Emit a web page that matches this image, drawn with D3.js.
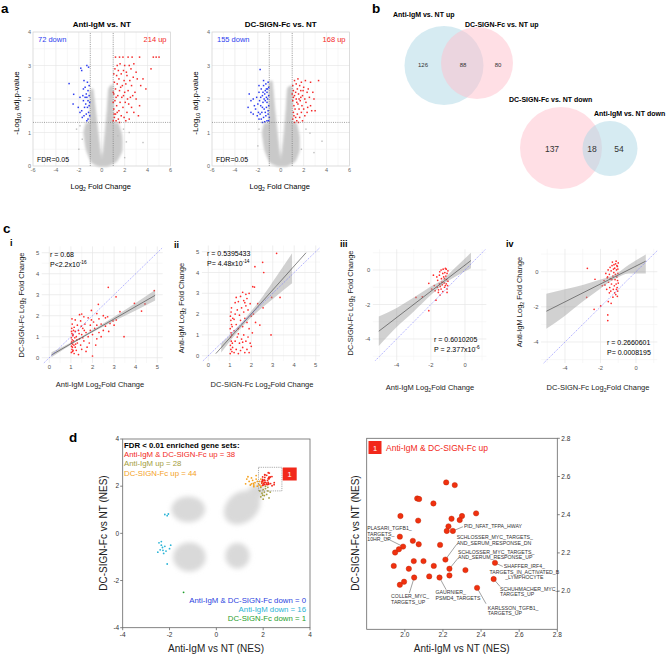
<!DOCTYPE html>
<html><head><meta charset="utf-8">
<script src="https://cdn.jsdelivr.net/npm/d3@7"></script>
<style>body{margin:0;background:#fff}svg{display:block}text{font-family:"Liberation Sans",Arial,sans-serif}</style>
</head><body><svg id="c" width="670" height="656"></svg>
<script>
// ---------------- DATA ----------------
// Panel a: volcano plots
const volcTitles = ["Anti-IgM vs. NT", "DC-SIGN-Fc  vs. NT"];
const volcCounts = [[72, 214], [155, 168]];
const volcXTicks = [-6, -4, -2, 0, 2, 4, 6];
const volcYTicks = [0, 1, 2, 3, 4];
const fdrLine = 1.301;
const fcCut = [-1, 1];
const vShape1 = [[-0.3,0],[-0.9,0.12],[-1.35,0.5],[-1.55,1.0],[-1.35,1.28],[-1.02,1.32],[-1.0,2.2],[-0.78,2.28],[-0.55,1.65],[-0.35,1.05],[-0.15,0.5],[0,0.22],[0.15,0.5],[0.32,1.05],[0.48,1.65],[0.62,2.3],[0.98,2.38],[1.0,1.32],[1.4,1.28],[1.75,0.9],[1.75,0.45],[1.3,0.15],[0.5,0]];
const vShape2 = [[-0.3,0],[-0.95,0.12],[-1.4,0.5],[-1.6,1.0],[-1.4,1.28],[-1.02,1.32],[-1.0,2.45],[-0.75,2.5],[-0.55,1.75],[-0.35,1.1],[-0.15,0.5],[0,0.2],[0.15,0.5],[0.32,1.05],[0.48,1.7],[0.6,2.3],[0.97,2.35],[1.0,1.32],[1.35,1.28],[1.6,0.9],[1.6,0.45],[1.25,0.15],[0.5,0]];
const volc1Gray = [[-2.2,1.1],[1.4,0.9],[3.6,0.7],[-2.0,0.5],[2.15,0.72],[1.9,1.1],[-1.7,0.8],[2.0,0.25],[2.4,1.0],[-1.9,1.2]];
const volc2Gray = [[2.55,0.98],[2.2,1.1],[3.6,0.74],[-2.0,0.6],[1.8,0.5],[-1.9,1.1],[2.9,0.4]];
const volc1Blue = [[-2.85,2.46],[-1.83,2.92],[-1.75,2.85],[-1.3,3.0],[-1.15,2.95],[-1.55,2.55],[-1.25,2.5],[-1.45,2.35],[-1.2,2.25],[-1.6,2.3],[-2.45,2.14],[-1.9,2.05],[-1.6,1.95],[-1.4,1.85],[-1.25,1.75],[-2.5,1.85],[-2.05,1.75],[-1.75,1.65],[-1.35,1.55],[-1.2,1.4],[-1.55,1.5],[-1.1,2.1],[-1.15,1.6],[-1.05,1.9],[-1.3,2.05],[-1.7,1.45],[-1.9,1.6],[-1.1,2.4],[-1.35,2.15],[-1.05,1.5],[-1.5,1.75],[-1.2,1.95],[-1.1,1.8],[-1.45,2.05],[-1.65,2.1],[-1.3,1.35]];
const volc1Red = [[1.2,3.25],[1.55,3.25],[1.85,3.25],[2.3,3.25],[2.65,3.25],[3.3,3.25],[4.5,3.25],[4.75,3.25],[5.0,3.25],[1.35,3.0],[1.6,3.05],[2.0,3.0],[2.4,3.0],[2.8,3.05],[4.3,2.9],[1.15,2.9],[1.9,2.85],[2.55,2.9],[3.0,2.8],[1.05,2.75],[1.3,2.7],[1.7,2.75],[2.2,2.7],[2.75,2.65],[1.5,2.6],[1.95,2.55],[2.45,2.55],[3.1,2.6],[3.6,2.6],[3.85,2.3],[1.1,2.5],[1.35,2.45],[1.8,2.4],[2.1,2.45],[2.6,2.4],[3.4,2.4],[1.2,2.3],[1.55,2.25],[2.0,2.2],[2.3,2.25],[2.9,2.2],[1.05,2.15],[1.4,2.1],[1.75,2.05],[2.5,2.05],[3.0,2.0],[1.15,1.95],[1.6,1.9],[2.05,1.9],[2.35,1.85],[1.3,1.8],[1.85,1.75],[2.6,1.75],[3.3,1.8],[1.05,1.7],[1.5,1.65],[2.2,1.6],[2.8,1.6],[1.2,1.55],[1.7,1.5],[3.2,1.5],[1.1,1.45],[1.45,1.4],[1.95,1.45],[2.4,1.4],[1.25,1.35],[1.55,1.3],[1.0,1.35],[2.1,1.35],[1.35,1.6],[1.9,2.1],[1.25,2.05],[1.65,2.35],[2.15,2.8],[1.45,2.85],[1.0,1.9],[1.0,2.2],[1.08,1.55],[2.7,2.1],[2.25,2.0]];
const volc2Blue = [[-1.8,2.88],[-2.85,1.75],[-2.75,2.15],[-2.6,1.95],[-2.4,2.0],[-2.3,1.8],[-2.1,2.05],[-1.9,2.2],[-1.7,2.3],[-1.5,2.4],[-1.3,2.45],[-1.1,2.5],[-1.05,2.35],[-1.2,2.2],[-1.4,2.15],[-1.6,2.1],[-1.85,1.95],[-2.0,1.85],[-2.2,1.7],[-1.15,2.0],[-1.35,1.95],[-1.55,1.9],[-1.75,1.8],[-1.95,1.6],[-1.05,1.8],[-1.25,1.75],[-1.45,1.7],[-1.65,1.6],[-1.1,1.55],[-1.3,1.5],[-1.5,1.45],[-1.7,1.4],[-1.9,1.4],[-1.05,1.35],[-1.2,1.35],[-1.4,1.32],[-1.6,1.3],[-1.15,2.3],[-1.35,2.25],[-1.55,2.2],[-1.75,2.05],[-1.25,2.05],[-1.45,2.0],[-1.1,1.65],[-1.6,1.75],[-1.8,1.55],[-1.35,1.6],[-1.05,2.1],[-1.2,1.9],[-2.4,1.55],[-2.6,1.6],[-1.5,2.55],[-1.25,2.3],[-1.0,1.45],[-1.9,2.4],[-2.05,1.5]];
const volc2Red = [[1.2,2.55],[1.5,2.6],[1.8,2.5],[2.15,2.55],[2.6,2.5],[3.3,2.55],[1.05,2.4],[1.35,2.45],[1.65,2.4],[2.0,2.35],[2.4,2.3],[1.1,2.25],[1.45,2.3],[1.75,2.25],[2.3,2.2],[2.8,2.2],[1.2,2.1],[1.55,2.15],[1.9,2.1],[2.1,2.0],[2.5,2.05],[2.9,2.0],[1.05,1.95],[1.35,2.0],[1.7,1.95],[2.2,1.9],[1.15,1.8],[1.5,1.85],[1.85,1.8],[2.6,1.8],[1.25,1.7],[1.6,1.7],[2.0,1.7],[3.0,1.65],[1.1,1.6],[1.45,1.55],[1.8,1.6],[2.3,1.6],[1.3,1.45],[1.65,1.45],[2.1,1.5],[1.05,1.4],[1.4,1.35],[1.9,1.35],[1.2,1.3],[1.55,1.3],[2.35,1.75],[1.0,2.15],[1.3,2.2],[1.95,2.25],[1.4,1.9],[1.75,2.05],[1.15,1.5],[2.7,1.65],[1.6,2.0],[1.1,2.05]];

// Panel b: Venn counts
const vennUpTitles = ["Anti-IgM vs. NT up", "DC-SIGN-Fc vs. NT up"];
const vennUpCounts = [126, 88, 80];
const vennDownTitles = ["DC-SIGN-Fc vs. NT down", "Anti-IgM vs. NT down"];
const vennDownCounts = [137, 18, 54];

// Panel c: correlation scatters
const cStats = [["r = 0.68", "P<2.2x10", "-16"], ["r = 0.5395433", "P= 4.48x10", "-14"], ["r = 0.6010205", "P = 2.377x10", "-6"], ["r = 0.2660601", "P= 0.0008195", ""]];
const cTicksUp = [0, 1, 2, 3, 4, 5];
const cTicksDown = [-4, -2, 0];
const cPtsI = [[2.73,3.35],[3.09,2.9],[4.86,3.19],[4.43,2.56],[3.94,2.59],[4.27,2.22],[2.27,2.54],[3.27,2.19],[2.81,1.63],[3.46,1.0],[2.0,0.08],[1.5,2.08],[2.7,1.95],[2.95,1.75],[3.1,1.8],[2.6,1.9],[2.4,1.6],[2.5,1.3],[2.2,1.55],[1.95,1.8],[1.8,1.9],[1.02,0.25],[1.05,0.4],[1.03,0.55],[1.08,0.65],[1.04,0.75],[1.06,0.85],[1.02,0.95],[1.09,1.05],[1.05,1.15],[1.03,1.25],[1.07,0.5],[1.1,0.35],[1.12,0.8],[1.04,1.4],[1.06,1.6],[1.1,1.1],[1.02,0.7],[1.14,0.6],[1.08,0.3],[1.05,1.85],[1.2,0.5],[1.3,0.7],[1.25,1.0],[1.4,0.9],[1.35,1.3],[1.5,1.1],[1.45,0.6],[1.6,0.8],[1.55,1.4],[1.7,1.2],[1.65,1.6],[1.8,1.0],[1.75,0.5],[1.9,1.3],[1.85,0.7],[2.0,1.1],[2.1,1.4],[2.2,0.9],[2.3,1.2],[2.05,1.7],[1.3,1.55],[1.2,1.8],[1.4,2.05],[1.6,1.95],[1.15,0.2],[1.25,0.35],[1.35,0.15],[1.5,0.4],[1.2,1.25],[1.45,1.75],[1.7,0.3],[2.15,0.6],[2.4,1.0],[2.6,1.5],[2.3,1.85],[1.9,1.55],[1.15,1.45],[1.28,0.85],[1.38,1.15],[1.55,0.95],[1.62,1.3],[1.48,1.5],[1.18,0.95],[1.22,0.65],[1.12,1.3],[2.75,1.25],[3.0,1.55],[2.5,2.0],[2.2,2.1],[1.95,2.25]];
const cPtsII = [[3.18,4.92],[2.53,4.49],[2.58,4.0],[2.17,4.28],[2.07,3.32],[2.15,3.3],[2.95,2.8],[3.34,2.8],[2.92,1.0],[2.4,1.47],[2.55,2.3],[2.3,2.5],[2.05,1.1],[1.9,3.0],[1.75,2.95],[1.6,3.05],[1.8,2.75],[1.65,2.65],[1.4,2.6],[1.25,2.55],[1.02,0.1],[1.05,0.3],[1.03,0.5],[1.07,0.7],[1.04,0.9],[1.06,1.1],[1.02,1.3],[1.08,1.5],[1.05,1.7],[1.03,1.9],[1.06,2.1],[1.1,0.2],[1.12,0.6],[1.09,1.0],[1.11,1.4],[1.14,1.8],[1.08,2.3],[1.13,0.4],[1.2,0.15],[1.3,0.3],[1.4,0.1],[1.5,0.25],[1.6,0.4],[1.7,0.15],[1.8,0.3],[1.25,0.7],[1.35,0.9],[1.45,0.6],[1.55,0.8],[1.65,1.0],[1.75,0.7],[1.85,0.9],[1.95,0.6],[1.2,1.2],[1.3,1.5],[1.4,1.3],[1.5,1.7],[1.6,1.4],[1.7,1.8],[1.8,1.6],[1.9,1.3],[2.0,1.9],[1.25,2.0],[1.35,2.2],[1.45,1.95],[1.55,2.3],[1.65,2.1],[1.75,2.4],[1.85,2.2],[1.95,2.5],[2.1,2.0],[2.2,1.6],[1.2,1.75],[1.4,1.05],[1.6,0.65],[1.9,0.15],[2.0,0.45],[1.3,2.8],[1.5,2.85],[1.7,2.55]];
const cPtsIII = [[-2.12,-0.77],[-2.87,-1.59],[-2.12,-2.36],[-1.46,-1.45],[-1.7,-1.75],[-2.5,-1.55],[-1.8,-0.9],[-1.6,-0.6],[-1.5,-0.3],[-1.4,0.0],[-1.3,-0.2],[-1.2,-0.5],[-1.1,-0.8],[-1.05,-1.1],[-1.15,0.1],[-1.25,-0.4],[-1.35,-0.7],[-1.45,-0.95],[-1.55,-1.15],[-1.65,-0.4],[-1.75,-1.2],[-1.05,-0.2],[-1.08,-0.55],[-1.1,0.05],[-1.02,-0.9],[-1.2,-1.0],[-1.3,-1.25],[-1.0,-0.65],[-1.12,-0.35],[-1.22,-0.75],[-1.38,-0.5],[-1.5,-0.8],[-1.62,-1.0],[-1.85,-0.3],[-1.95,-1.1],[-1.05,-1.3],[-1.15,-0.9],[-1.28,0.05],[-1.4,-1.1],[-1.0,-0.05],[-1.18,-0.15],[-1.33,-0.85],[-1.48,-0.1],[-1.56,-1.3]];
const cPtsIV = [[-2.74,0.19],[-2.31,-0.43],[-2.36,-2.14],[-2.78,-1.46],[-1.99,-1.95],[-1.56,-1.7],[-1.59,-2.46],[-1.59,-2.78],[-1.4,-1.8],[-1.3,-1.45],[-1.5,-1.2],[-1.0,0.5],[-1.05,0.3],[-1.1,0.1],[-1.02,-0.1],[-1.08,-0.3],[-1.04,-0.5],[-1.12,-0.7],[-1.06,-0.9],[-1.03,-1.1],[-1.15,0.45],[-1.2,0.2],[-1.25,-0.05],[-1.3,-0.25],[-1.35,0.35],[-1.4,0.05],[-1.45,-0.4],[-1.5,-0.15],[-1.55,-0.6],[-1.6,-0.3],[-1.7,-0.1],[-1.8,-0.5],[-1.9,-0.8],[-1.18,-0.45],[-1.22,-0.8],[-1.28,-1.0],[-1.38,-0.7],[-1.48,-0.9],[-1.33,0.55],[-1.12,0.6],[-1.24,0.4],[-1.14,-1.3],[-1.42,-1.1],[-1.65,-1.0],[-1.75,-0.75],[-1.08,0.35],[-1.0,-0.65],[-1.02,0.15],[-1.16,-0.15],[-1.27,0.15],[-1.36,-0.45],[-1.46,0.25],[-1.57,0.1],[-1.62,-0.35],[-1.1,-1.0],[-1.2,-1.2],[-1.05,-1.4]];
const cFitI = [[0.1,0.13],[4.9,2.97]];
const cBandI = [[0.1,0.02,0.26],[1,0.62,0.72],[1.8,1.1,1.2],[3,1.75,1.95],[4,2.25,2.6],[4.9,2.72,3.22]];
const cFitII = [[0.35,0.1],[4.55,4.95]];
const cBandII = [[0.6,0.15,0.6],[1.2,0.95,1.2],[1.8,1.65,1.9],[2.5,2.3,2.8],[3.2,2.9,3.85],[3.9,3.48,4.92]];
const cFitIII = [[-5.05,-3.55],[0.35,0.55]];
const cBandIII = [[-5.05,-4.4,-2.7],[-4,-3.3,-2.2],[-3,-2.4,-1.6],[-2,-1.45,-0.95],[-1.3,-0.85,-0.55],[-0.5,-0.35,0.2],[0.35,0.1,1.0]];
const cFitIV = [[-5.05,-2.25],[0.55,0.6]];
const cBandIV = [[-5.05,-3.25,-1.25],[-4,-2.5,-1.0],[-3,-1.7,-0.75],[-2,-0.95,-0.45],[-1.2,-0.42,-0.18],[-0.4,-0.1,0.4],[0.55,-0.1,0.98]];

// Panel d: GSEA NES scatter
const dTicks = [-4, -2, 0, 2, 4];
const zoomTicks = [2.0, 2.2, 2.4, 2.6, 2.8];
const nesClouds = [[-1.2,1.02,0.72,0.55,0],[1.1,1.1,0.85,0.64,-38],[-1.15,-1.0,0.7,0.62,0],[0.9,-0.95,0.52,0.55,0],[1.7,1.75,0.38,0.32,-38]];
const bothUp = [[2.217,2.569],[2.262,2.555],[2.065,2.485],[2.075,2.482],[2.15,2.459],[2.374,2.407],[1.977,2.393],[2.30,2.393],[2.245,2.379],[2.288,2.372],[2.07,2.369],[2.229,2.339],[2.22,2.315],[2.252,2.315],[1.974,2.285],[2.042,2.263],[2.073,2.245],[2.185,2.242],[1.991,2.233],[1.969,2.219],[1.949,2.202],[2.213,2.165],[2.047,2.157],[2.098,2.157],[1.942,2.132],[2.152,2.132],[2.021,2.117],[2.234,2.117],[2.473,2.148],[2.318,2.11],[2.128,2.077],[2.049,2.071],[2.182,2.071],[2.234,2.082],[2.466,2.063],[1.996,2.049],[1.974,2.033],[2.379,2.017]];
const igmUp = [[1.9,1.95],[2.0,1.85],[2.1,1.9],[2.2,1.8],[1.95,1.7],[2.05,1.6],[2.15,1.65],[2.25,1.5],[1.9,1.55],[2.0,1.45],[2.3,1.75],[2.1,2.0],[1.85,1.8],[2.2,1.95],[2.05,1.75],[1.98,1.62]];
const dcUp = [[1.3,2.3],[1.4,2.2],[1.5,2.1],[1.55,2.25],[1.6,2.05],[1.65,2.15],[1.7,2.3],[1.75,2.0],[1.8,2.1],[1.85,2.2],[1.9,2.0],[1.45,2.05],[1.35,2.4],[1.7,2.45],[1.6,1.98],[1.95,2.15],[1.5,2.35],[1.75,2.2],[1.85,2.05],[1.25,2.1],[1.9,2.3],[1.58,2.12]];
const igmDown = [[-2.2,0.8],[-2.1,0.75],[-2.05,0.82],[-2.45,-0.4],[-2.35,-0.5],[-2.3,-0.6],[-2.2,-0.55],[-2.4,-0.7],[-2.15,-0.75],[-2.5,-0.8],[-2.25,-0.85],[-2.0,-0.65],[-2.1,-1.3],[-2.35,-0.35],[-2.28,-0.72],[-1.95,-0.5]];
const dcDown = [[-1.4,-2.5]];
const legendUp = [["Anti-IgM & DC-SIGN-Fc up = 38","#f2281a"],["Anti-IgM up = 28","#a39d3c"],["DC-SIGN-Fc up = 44","#f4a11e"]];
const legendDown = [["Anti-IgM & DC-SIGN-Fc down = 0","#2b3fe0"],["Anti-IgM down = 16","#2bb4d6"],["DC-SIGN-Fc down = 1","#1f9e2b"]];
const geneLabels = [
  {i:13, lines:["PID_NFAT_TFPA_HWAY"], t:[2.31,2.332], e:[2.305,2.337], a:"start"},
  {i:18, lines:["PLASARI_TGFB1_","TARGETS_","10HR_UP"], t:[1.803,2.318], e:[1.893,2.282], a:"start"},
  {i:21, lines:["SCHLOSSER_MYC_TARGETS_","AND_SERUM_RESPONSE_DN"], t:[2.272,2.271], e:[2.272,2.245], a:"start"},
  {i:27, lines:["SCHLOSSER_MYC_TARGETS_","AND_SERUM_RESPONSE_UP"], t:[2.279,2.195], e:[2.279,2.172], a:"start"},
  {i:28, lines:["SHAFFER_IRF4_","TARGETS_IN_ACTIVATED_B","_LYMPHOCYTE"], t:[2.627,2.12], e:[2.514,2.129], a:"middle"},
  {i:34, lines:["SCHUHMACHER_MYC_","TARGETS_UP"], t:[2.5,2.002], e:[2.5,2.024], a:"start"},
  {i:37, lines:["KARLSSON_TGFB1_","TARGETS_UP"], t:[2.435,1.903], e:[2.426,1.934], a:"start"},
  {i:32, lines:["GAURNIER_","PSMD4_TARGETS"], t:[2.161,1.984], e:[2.217,2.007], a:"start"},
  {i:31, lines:["COLLER_MYC_","TARGETS_UP"], t:[1.928,1.963], e:[2.024,1.99], a:"start"}
];

// ---------------- DRAWING ----------------
const svg = d3.select("#c");
svg.append("rect").attr("width",670).attr("height",656).attr("fill","#fff");
const defs = svg.append("defs");
defs.append("filter").attr("id","soft").attr("x","-30%").attr("y","-30%").attr("width","160%").attr("height","160%")
  .append("feGaussianBlur").attr("stdDeviation",2.6);
defs.append("filter").attr("id","soft2").attr("x","-10%").attr("y","-10%").attr("width","120%").attr("height","120%")
  .append("feGaussianBlur").attr("stdDeviation",0.8);

function rich(g, x, y, parts, size, attrs) {
  const t = g.append("text").attr("x", x).attr("y", y).attr("font-size", size);
  for (const k in (attrs||{})) t.attr(k, attrs[k]);
  let shift = 0;
  parts.forEach(([s, k]) => {
    const target = k === "sub" ? size*0.3 : k === "sup" ? -size*0.42 : 0;
    const ts = t.append("tspan").text(s).attr("dy", target - shift);
    if (k) ts.attr("font-size", size*0.68);
    shift = target;
  });
  return t;
}
function label(g, x, y, s, size, attrs) {
  const t = g.append("text").attr("x", x).attr("y", y).attr("font-size", size).text(s);
  for (const k in (attrs||{})) t.attr(k, attrs[k]);
  return t;
}
function vline(g, x1, y1, x2, y2, stroke, w, dash) {
  const l = g.append("line").attr("x1",x1).attr("y1",y1).attr("x2",x2).attr("y2",y2).attr("stroke",stroke).attr("stroke-width",w);
  if (dash) l.attr("stroke-dasharray", dash);
  return l;
}

// Panel letters
[["a",1,13],["b",372,13],["c",3,233],["d",69,442]].forEach(([s,x,y]) => label(svg,x,y,s,13.5,{"font-weight":"bold"}));

// ----- Panel a -----
function volcano(o) {
  const g = svg.append("g");
  const x = d3.scaleLinear().domain([-6,6]).range([o.x0, o.x1]);
  const y = d3.scaleLinear().domain([0,4]).range([166, 32]);
  d3.range(-5,6,1).forEach(v => vline(g, x(v), y(0), x(v), y(4), v%2===0?"#e4e4e4":"#f2f2f2", 0.6));
  d3.range(0.5,4,0.5).forEach(v => vline(g, x(-6), y(v), x(6), y(v), v%1===0?"#e4e4e4":"#f2f2f2", 0.6));
  g.append("rect").attr("x",x(-6)).attr("y",y(4)).attr("width",x(6)-x(-6)).attr("height",y(0)-y(4)).attr("fill","none").attr("stroke","#cfcfcf").attr("stroke-width",0.7);
  g.append("path").datum(o.shape).attr("d", d3.line().x(d=>x(d[0])).y(d=>y(d[1])).curve(d3.curveCardinalClosed.tension(0.5)))
    .attr("fill","#c9c9c9").attr("stroke","#d2d2d2").attr("stroke-width",1.4).attr("filter","url(#soft2)");
  g.selectAll(null).data(o.gray).join("rect").attr("x",d=>x(d[0])-0.7).attr("y",d=>y(d[1])-0.7).attr("width",1.4).attr("height",1.4).attr("fill","#bdbdbd");
  g.selectAll(null).data(o.blue).join("rect").attr("x",d=>x(d[0])-0.75).attr("y",d=>y(d[1])-0.75).attr("width",1.5).attr("height",1.5).attr("fill","#2d3df0");
  g.selectAll(null).data(o.red).join("rect").attr("x",d=>x(d[0])-0.75).attr("y",d=>y(d[1])-0.75).attr("width",1.5).attr("height",1.5).attr("fill","#f42a2a");
  fcCut.forEach(v => vline(g, x(v), y(0), x(v), y(4), "#666", 0.6, "1,1.2"));
  vline(g, x(-6), y(fdrLine), x(6), y(fdrLine), "#666", 0.6, "1,1.2");
  volcXTicks.forEach(v => label(g, x(v), 171.5, v, 5.5, {"text-anchor":"middle", fill:"#666"}));
  volcYTicks.forEach(v => label(g, x(-6)-2, y(v)+2, v, 5.5, {"text-anchor":"end", fill:"#666"}));
  label(g, (x(-6)+x(6))/2, 27, o.title, 8, {"text-anchor":"middle","font-weight":"bold"});
  label(g, x(-6)+5, 41.5, o.counts[0]+" down", 7.5, {fill:"#2d3df0"});
  label(g, x(6)-4, 41.5, o.counts[1]+" up", 7.5, {fill:"#f42a2a","text-anchor":"end"});
  label(g, x(-6)+4, 161.5, "FDR=0.05", 7, {});
  rich(g, x(0)-1, 188.5, [["Log",""],["2","sub"],[" Fold Change",""]], 7.5, {"text-anchor":"middle"});
  rich(g, 0, 0, [["-Log",""],["10","sub"],[" adj.p-value",""]], 8, {"text-anchor":"middle", transform:`translate(${o.x0-14},103) rotate(-90)`});
}
volcano({x0:33, x1:170.5, shape:vShape1, gray:volc1Gray, blue:volc1Blue, red:volc1Red, title:volcTitles[0], counts:volcCounts[0]});
volcano({x0:212, x1:349.5, shape:vShape2, gray:volc2Gray, blue:volc2Blue, red:volc2Red, title:volcTitles[1], counts:volcCounts[1]});

// ----- Panel b -----
(function(){
  const g = svg.append("g");
  const lb = "rgb(173,216,230)", pk = "rgb(255,192,203)";
  const up = [[444,65.5,39.5,lb],[477,63,36,pk]];
  up.forEach(c => g.append("circle").attr("cx",c[0]).attr("cy",c[1]).attr("r",c[2]).attr("fill",c[3]).attr("fill-opacity",0.5));
  const upX = [423,463,498];
  vennUpCounts.forEach((v,i) => label(g, upX[i], 66.5, v, 6, {"text-anchor":"middle","font-family":"Liberation Serif, serif", fill:"#333"}));
  label(g, 393, 17, vennUpTitles[0], 7, {"font-weight":"bold"});
  label(g, 465, 26.5, vennUpTitles[1], 7, {"font-weight":"bold"});
  const dn = [[561,148,41,pk],[610,148.5,27.5,lb]];
  dn.forEach(c => g.append("circle").attr("cx",c[0]).attr("cy",c[1]).attr("r",c[2]).attr("fill",c[3]).attr("fill-opacity",0.5));
  const dnX = [552,592,619];
  vennDownCounts.forEach((v,i) => label(g, dnX[i], 151.5, v, 8.5, {"text-anchor":"middle","font-family":"Liberation Serif, serif", fill:"#333"}));
  label(g, 509, 102, vennDownTitles[0], 7, {"font-weight":"bold"});
  label(g, 594, 115.5, vennDownTitles[1], 7, {"font-weight":"bold"});
})();

// ----- Panel c -----
function cPlot(o) {
  const g = svg.append("g");
  const x = d3.scaleLinear().domain(o.xd).range(o.xr);
  const y = d3.scaleLinear().domain(o.yd).range(o.yr);
  const [xa,xb] = o.xe, [ya,yb] = o.ye;
  o.minor.forEach(v => { if (v>xa && v<xb) vline(g, x(v), y(ya), x(v), y(yb), "#f3f3f3", 0.6); if (v>ya && v<yb) vline(g, x(xa), y(v), x(xb), y(v), "#f3f3f3", 0.6); });
  o.ticks.forEach(v => { vline(g, x(v), y(ya), x(v), y(yb), "#e6e6e6", 0.7); vline(g, x(xa), y(v), x(xb), y(v), "#e6e6e6", 0.7); });
  g.selectAll(null).data(o.pts).join("circle").attr("cx",d=>x(d[0])).attr("cy",d=>y(d[1])).attr("r",0.85).attr("fill","#ff2a2a");
  g.append("path").datum(o.band).attr("d", d3.area().x(d=>x(d[0])).y0(d=>y(d[1])).y1(d=>y(d[2])).curve(d3.curveMonotoneX)).attr("fill","#9a9a9a").attr("fill-opacity",0.45);
  g.append("path").datum(o.fit).attr("d", d3.line().x(d=>x(d[0])).y(d=>y(d[1]))).attr("stroke","#3a3a3a").attr("stroke-width",0.6).attr("fill","none");
  const lo = Math.max(xa,ya), hi = Math.min(xb,yb);
  vline(g, x(lo), y(lo), x(hi), y(hi), "#6b6bff", 0.6, "1.2,1.2");
  o.ticks.forEach(v => {
    label(g, x(v), y(ya)+6.5, v, 5.8, {"text-anchor":"middle", fill:"#555"});
    label(g, x(xa)-2.5, y(v)+2, v, 5.8, {"text-anchor":"end", fill:"#555"});
  });
  label(g, o.tag[0], o.tag[1], o.tag[2], 9, {"font-weight":"bold"});
  label(g, o.st[0], o.st[1], o.stats[0], 7, {});
  rich(g, o.st[0], o.st[1]+10, [[o.stats[1],""],[o.stats[2],"sup"]], 7, {});
  rich(g, o.xl[0], o.xl[1], [[o.xlab+" Log",""],["2","sub"],["Fold Change",""]], 7.5, {"text-anchor":"middle", fill:"#222"});
  rich(g, 0, 0, [[o.ylab+" Log",""],["2","sub"],[" Fold Change",""]], 7.5, {"text-anchor":"middle", fill:"#222", transform:`translate(${o.yl[0]},${o.yl[1]}) rotate(-90)`});
}
cPlot({xd:[0,5], xr:[49.3,157.3], yd:[0,5], yr:[357.7,252.7], xe:[-0.35,5.25], ye:[-0.25,5.3], ticks:cTicksUp, minor:[0.5,1.5,2.5,3.5,4.5],
  pts:cPtsI, fit:cFitI, band:cBandI, tag:[10,246,"i"], st:[50,257], stats:cStats[0], xl:[100,387], xlab:"Anti-IgM", yl:[24,305], ylab:"DC-SIGN-Fc"});
cPlot({xd:[0,5], xr:[208.3,315.7], yd:[0,5], yr:[355.7,251.7], xe:[-0.3,5.2], ye:[-0.25,5.3], ticks:cTicksUp, minor:[0.5,1.5,2.5,3.5,4.5],
  pts:cPtsII, fit:cFitII, band:cBandII, tag:[174,248,"ii"], st:[207,256], stats:cStats[1], xl:[262,387], xlab:"DC-SIGN-Fc", yl:[184,308], ylab:"Anti-IgM"});
cPlot({xd:[-4,0], xr:[396.7,465], yd:[-4,0], yr:[339,270], xe:[-5.4,1.25], ye:[-5.25,1.2], ticks:cTicksDown, minor:[-5,-3,-1,1],
  pts:cPtsIII, fit:cFitIII, band:cBandIII, tag:[340,247,"iii"], st:[434,342], stats:cStats[2], xl:[430,389.5], xlab:"Anti-IgM", yl:[353,303], ylab:"DC-SIGN-Fc"});
cPlot({xd:[-4,0], xr:[565,636], yd:[-4,0], yr:[342,271.7], xe:[-5.35,1.2], ye:[-5.2,1.3], ticks:cTicksDown, minor:[-5,-3,-1,1],
  pts:cPtsIV, fit:cFitIV, band:cBandIV, tag:[506,247,"iv"], st:[607,345], stats:cStats[3], xl:[598,389.5], xlab:"DC-SIGN-Fc", yl:[522,302], ylab:"Anti-IgM"});

// ----- Panel d left -----
(function(){
  const g = svg.append("g");
  const x = d3.scaleLinear().domain([-4,4]).range([122.7,310]);
  const y = d3.scaleLinear().domain([-4,4]).range([627.7,439]);
  const k = (x(1)-x(0));
  const cl = g.append("g").attr("filter","url(#soft)");
  nesClouds.forEach(c => cl.append("ellipse").attr("cx",x(c[0])).attr("cy",y(c[1])).attr("rx",c[2]*k).attr("ry",c[3]*k)
    .attr("transform",`rotate(${c[4]},${x(c[0])},${y(c[1])})`).attr("fill","#d9d9d9"));
  const dot = (data, col, r) => g.selectAll(null).data(data).join("circle").attr("cx",d=>x(d[0])).attr("cy",d=>y(d[1])).attr("r",r).attr("fill",col);
  dot(igmUp, "#a39d3c", 0.9);
  dot(dcUp, "#f4a11e", 0.9);
  dot(bothUp, "#f2281a", 0.9);
  dot(igmDown, "#2bb4d6", 0.9);
  dot(dcDown, "#1f9e2b", 0.9);
  g.append("rect").attr("x",x(1.8)).attr("y",y(2.8)).attr("width",x(2.8)-x(1.8)).attr("height",y(1.8)-y(2.8)).attr("fill","none").attr("stroke","#888").attr("stroke-width",0.7).attr("stroke-dasharray","1.2,1");
  g.append("rect").attr("x",282.7).attr("y",467.5).attr("width",14).attr("height",13).attr("fill","#f2281a");
  label(g, 289.7, 477, "1", 7.5, {"text-anchor":"middle", fill:"#fff"});
  g.append("rect").attr("x",x(-4)).attr("y",y(4)).attr("width",x(4)-x(-4)).attr("height",y(-4)-y(4)).attr("fill","none").attr("stroke","#666").attr("stroke-width",0.8);
  dTicks.forEach(v => {
    vline(g, x(v), y(-4), x(v), y(-4)+2.5, "#666", 0.8);
    vline(g, x(-4), y(v), x(-4)-2.5, y(v), "#666", 0.8);
    label(g, x(v), 637, v, 6.5, {"text-anchor":"middle", fill:"#333"});
    label(g, x(-4)-3.5, y(v)+2.3, v, 6.5, {"text-anchor":"end", fill:"#333"});
  });
  label(g, 124, 447.5, "FDR < 0.01 enriched gene sets:", 7.8, {"font-weight":"bold"});
  legendUp.forEach((d,i) => label(g, 124, 457 + i*9.3, d[0], 7.8, {fill:d[1]}));
  legendDown.forEach((d,i) => label(g, 306, 602.5 + i*9.3, d[0], 7.8, {fill:d[1], "text-anchor":"end"}));
  label(g, 216, 652, "Anti-IgM vs NT (NES)", 10, {"text-anchor":"middle", fill:"#222"});
  label(g, 0, 0, "DC-SIGN-Fc vs NT (NES)", 10, {"text-anchor":"middle", fill:"#222", transform:"translate(107,533) rotate(-90)"});
})();

// ----- Panel d right -----
(function(){
  const g = svg.append("g");
  const x = d3.scaleLinear().domain([1.8,2.8]).range([366.7,557.3]);
  const y = d3.scaleLinear().domain([1.8,2.8]).range([629.3,438.3]);
  g.append("rect").attr("x",x(1.8)).attr("y",y(2.8)).attr("width",x(2.8)-x(1.8)).attr("height",y(1.8)-y(2.8)).attr("fill","none").attr("stroke","#666").attr("stroke-width",0.8);
  zoomTicks.forEach(v => {
    vline(g, x(v), y(1.8), x(v), y(1.8)+2.5, "#666", 0.8);
    vline(g, x(2.8), y(v), x(2.8)+2.5, y(v), "#666", 0.8);
    label(g, x(v), 637, v.toFixed(1), 6.5, {"text-anchor":"middle", fill:"#333"});
    label(g, x(2.8)+4, y(v)+2.3, v.toFixed(1), 6.5, {fill:"#333"});
  });
  geneLabels.forEach(L => {
    const p = bothUp[L.i];
    vline(g, x(p[0]), y(p[1]), x(L.e[0]), y(L.e[1]), "#444", 0.5);
    L.lines.forEach((s,j) => label(g, x(L.t[0]), y(L.t[1]) + j*5.5, s, 5.2, {fill:"#333", "text-anchor":L.a}));
  });
  g.selectAll(null).data(bothUp).join("circle").attr("cx",d=>x(d[0])).attr("cy",d=>y(d[1])).attr("r",2.7).attr("fill","#f0300f").attr("stroke","#b82000").attr("stroke-width",0.4);
  g.append("rect").attr("x",368.5).attr("y",441).attr("width",13).attr("height",13).attr("fill","#f2281a");
  label(g, 375, 450.5, "1", 7.5, {"text-anchor":"middle", fill:"#fff"});
  label(g, 386, 450.8, "Anti-IgM & DC-SIGN-Fc up", 8.5, {fill:"#f2281a"});
  label(g, 461.7, 652, "Anti-IgM vs NT (NES)", 10, {"text-anchor":"middle", fill:"#222"});
  label(g, 0, 0, "DC-SIGN-Fc vs NT (NES)", 10, {"text-anchor":"middle", fill:"#222", transform:"translate(359,533) rotate(-90)"});
})();
</script></body></html>
